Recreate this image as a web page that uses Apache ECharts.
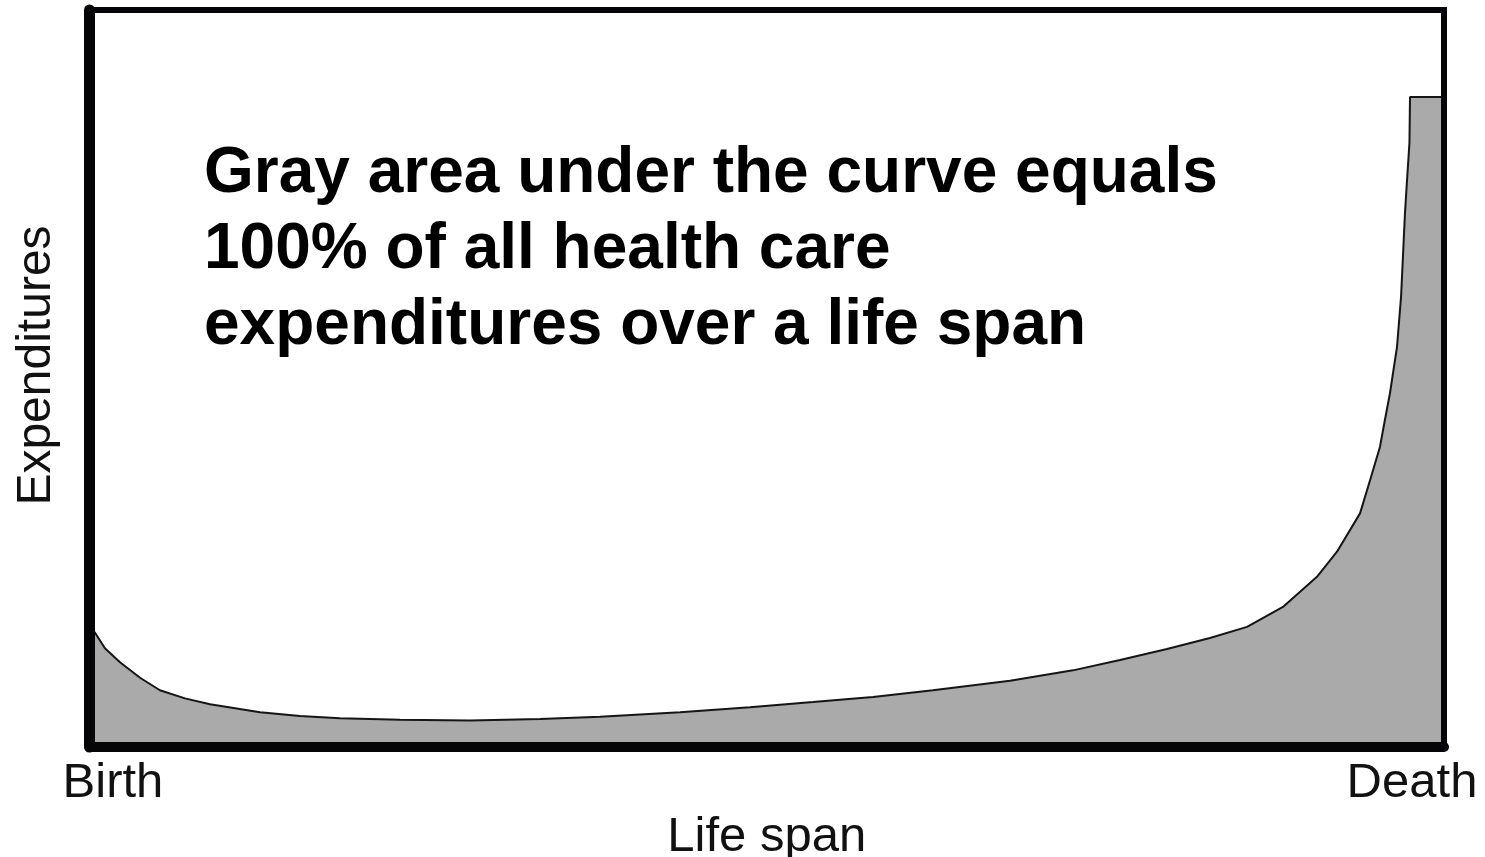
<!DOCTYPE html>
<html>
<head>
<meta charset="utf-8">
<title>Health care expenditures over a life span</title>
<script src="https://cdn.jsdelivr.net/npm/echarts@6/dist/echarts.min.js"></script>
<style>
  html, body { margin: 0; padding: 0; background: #fff; }
  #chart { width: 1485px; height: 857px; }
</style>
</head>
<body>
<div id="chart"></div>
<script>
// position along the life span (0 = birth, 100 = death)
const lifeSpan = [0, 0.41, 1.14, 2.25, 3.73, 5.20, 7.05, 8.90, 12.59, 15.54, 18.49, 22.92, 28.09, 33.26,
  37.69, 43.60, 48.76, 53.41, 57.84, 62.27, 67.96, 72.61, 76.08, 79.55, 82.72, 85.46, 88.11, 90.62,
  92.10, 93.80, 94.54, 95.27, 95.64, 96.01, 96.53, 96.83, 97.12, 97.27, 97.45, 97.49, 100];
// relative expenditures at that point
const expenditures = [16.3, 15.5, 13.4, 11.5, 9.4, 7.7, 6.6, 5.8, 4.7, 4.2, 3.9, 3.7, 3.6, 3.8,
  4.1, 4.7, 5.4, 6.1, 6.8, 7.7, 9.0, 10.4, 11.8, 13.3, 14.8, 16.3, 19.0, 23.1,
  26.5, 31.7, 36.2, 40.7, 44.4, 48.0, 54.3, 61.1, 72.5, 76.9, 82.0, 88.2, 88.2];

const endLabels = ['Birth', 'Death'];
const xTitle = 'Life span';
const yTitle = 'Expenditures';
const noteLines = [
  'Gray area under the curve equals',
  '100% of all health care',
  'expenditures over a life span',
];

const FONT = '"Liberation Sans", Arial, sans-serif';

const chart = echarts.init(document.getElementById('chart'));

chart.setOption({
  animation: false,
  backgroundColor: '#fff',
  grid: {
    left: 89.5,
    right: 41,
    top: 10,
    bottom: 110,
    containLabel: false,
    outerBoundsMode: 'none',
    show: true,
    z: 5,
    backgroundColor: 'transparent',
    borderColor: '#050508',
    borderWidth: 6,
  },
  xAxis: {
    type: 'value',
    min: 0,
    max: 100,
    interval: 100,
    z: 6,
    axisLine: { show: true, onZero: false, lineStyle: { color: '#050508', width: 10 } },
    axisTick: { show: false },
    splitLine: { show: false },
    axisLabel: {
      margin: 12,
      fontFamily: FONT,
      fontSize: 49,
      color: '#111',
      formatter: (v) => (v === 0 ? '{b|' + endLabels[0] + '}' : '{d|' + endLabels[1] + '}'),
      rich: {
        b: { fontFamily: FONT, fontSize: 49, color: '#111', padding: [0, 0, 0, 47] },
        d: { fontFamily: FONT, fontSize: 49, color: '#111', padding: [0, 64, 0, 0] },
      },
    },
    name: xTitle,
    nameLocation: 'middle',
    nameGap: 60,
    nameTextStyle: { fontFamily: FONT, fontSize: 49, color: '#111' },
  },
  yAxis: {
    type: 'value',
    min: 0,
    max: 100,
    z: 6,
    axisLine: { show: true, onZero: false, lineStyle: { color: '#050508', width: 11 } },
    axisTick: { show: false },
    splitLine: { show: false },
    axisLabel: { show: false },
    name: yTitle,
    nameLocation: 'middle',
    nameGap: 29,
    nameTextStyle: { fontFamily: FONT, fontSize: 48, color: '#111', padding: [0, 0, 0, 26] },
  },
  series: [
    {
      type: 'line',
      data: lifeSpan.map((x, i) => [x, expenditures[i]]),
      showSymbol: false,
      smooth: false,
      lineStyle: { color: '#151515', width: 2 },
      areaStyle: { color: '#aaaaaa', opacity: 1 },
      z: 2,
    },
  ],
  graphic: [
    {
      type: 'text',
      left: 204,
      top: 136,
      style: {
        text: noteLines.join('\n'),
        font: 'bold 64px ' + FONT,
        lineHeight: 76,
        fill: '#000',
      },
    },
  ],
});
</script>
</body>
</html>
